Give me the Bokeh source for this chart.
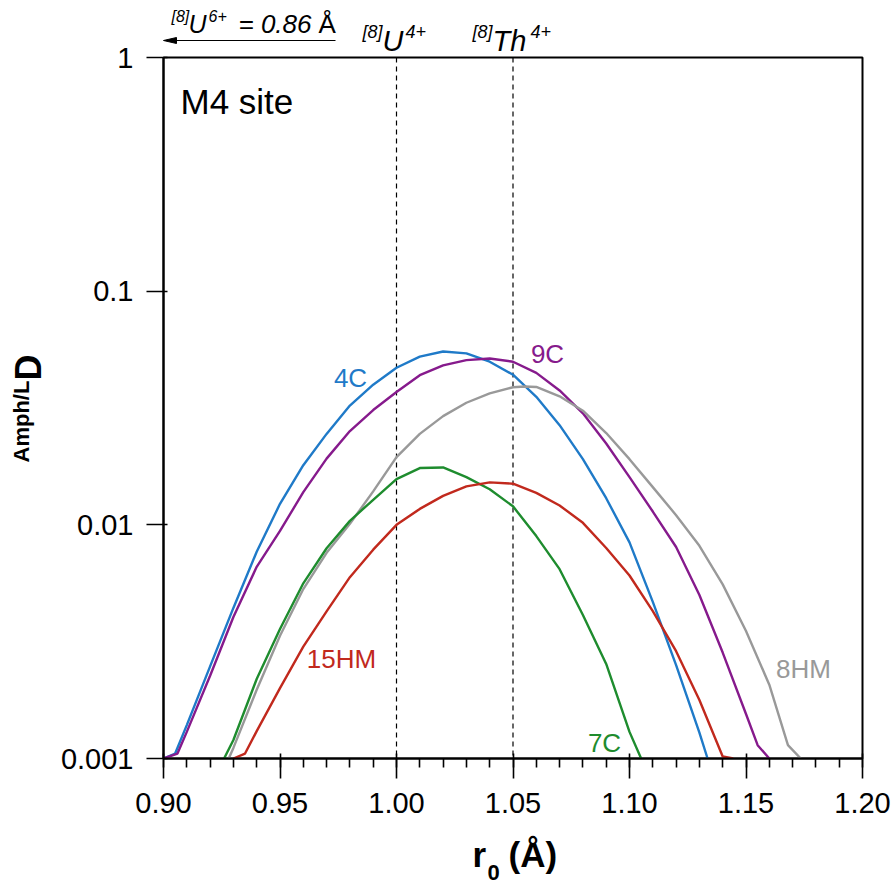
import numpy as np
from bokeh.plotting import figure
from bokeh.models import (Range1d, FixedTicker, Label, Span,
                          NumeralTickFormatter, CustomJSTickFormatter)
from bokeh.core.properties import value
from bokeh.embed import file_html
from bokeh.resources import INLINE

# ---- data (r0 in Å, D = Amph/L partition coefficient) ----
x_4C = [0.900, 0.905, 0.91, 0.92, 0.93, 0.94, 0.95, 0.96, 0.97, 0.98, 0.99, 1.00, 1.01,
        1.02, 1.03, 1.04, 1.05, 1.06, 1.07, 1.08, 1.09, 1.10, 1.11, 1.12, 1.13, 1.1335]
D_4C = [0.00100, 0.00105, 0.00139, 0.00248, 0.00441, 0.00767, 0.0123, 0.0180, 0.0245,
        0.0324, 0.0398, 0.0470, 0.0525, 0.0552, 0.0542, 0.0499, 0.0439, 0.0353, 0.0267,
        0.0191, 0.0130, 0.00841, 0.00468, 0.00251, 0.00129, 0.00100]

x_9C = [0.900, 0.906, 0.91, 0.92, 0.93, 0.94, 0.95, 0.96, 0.97, 0.98, 0.99, 1.00, 1.01,
        1.02, 1.03, 1.04, 1.05, 1.06, 1.07, 1.08, 1.09, 1.10, 1.11, 1.12, 1.13, 1.14,
        1.15, 1.155, 1.16]
D_9C = [0.00100, 0.00105, 0.00130, 0.00226, 0.00403, 0.00661, 0.00942, 0.0138, 0.0192,
        0.0252, 0.0310, 0.0370, 0.0437, 0.0481, 0.0507, 0.0515, 0.0499, 0.0447, 0.0376,
        0.0300, 0.0223, 0.0160, 0.0114, 0.00804, 0.00501, 0.00284, 0.00155, 0.00114, 0.00100]

x_8HM = [0.928, 0.93, 0.94, 0.95, 0.96, 0.97, 0.98, 0.99, 1.00, 1.01, 1.02, 1.03, 1.04,
         1.05, 1.055, 1.06, 1.07, 1.08, 1.09, 1.10, 1.11, 1.12, 1.13, 1.14, 1.15, 1.16,
         1.168, 1.1735]
D_8HM = [0.00100, 0.00111, 0.00197, 0.00335, 0.00531, 0.00759, 0.0101, 0.0139, 0.0195,
         0.0245, 0.0292, 0.0333, 0.0365, 0.0388, 0.0391, 0.0389, 0.0355, 0.0308, 0.0247,
         0.0191, 0.0145, 0.0110, 0.00813, 0.00556, 0.00351, 0.00207, 0.00114, 0.00100]

x_7C = [0.926, 0.93, 0.94, 0.95, 0.96, 0.97, 0.98, 0.99, 1.00, 1.01, 1.02, 1.03, 1.04,
        1.05, 1.06, 1.07, 1.08, 1.09, 1.10, 1.105]
D_7C = [0.00100, 0.00120, 0.00219, 0.00358, 0.00562, 0.00794, 0.0104, 0.0128, 0.0157,
        0.0175, 0.0176, 0.0160, 0.0142, 0.0120, 0.00895, 0.00646, 0.00411, 0.00254,
        0.00130, 0.00100]

x_15HM = [0.930, 0.935, 0.94, 0.95, 0.96, 0.97, 0.98, 0.99, 1.00, 1.01, 1.02, 1.03,
          1.04, 1.05, 1.06, 1.07, 1.08, 1.09, 1.10, 1.11, 1.12, 1.13, 1.14, 1.1445]
D_15HM = [0.00100, 0.00105, 0.00131, 0.00200, 0.00301, 0.00426, 0.00597, 0.00783,
          0.0100, 0.0117, 0.0133, 0.0146, 0.0152, 0.0150, 0.0137, 0.0121, 0.0102,
          0.00796, 0.00607, 0.00427, 0.00288, 0.00178, 0.00102, 0.00100]

series_names = ["4C", "9C", "8HM", "7C", "15HM"]
series_colors = ["#1f7ac8", "#861a8c", "#999999", "#1e8c2e", "#c1291d"]

ion_radii = [1.00, 1.05]          # [8]U4+ and [8]Th4+
x_ticks = [0.90, 0.95, 1.00, 1.05, 1.10, 1.15, 1.20]
x_minor = [round(0.90 + 0.01 * i, 2) for i in range(31)]
y_ticks = [0.001, 0.01, 0.1, 1]

FONT = "Liberation Sans"
FL, FR, FT, FB = 163, 862, 57, 758   # frame edges in page pixels
K = 0.38                             # glyph text vertical offset factor

def px2x(px):
    return 0.9 + (px - FL) / (FR - FL) * 0.3

def py2y(py):
    return 10 ** ((FB - py) / (FB - FT) * 3 - 3)

p = figure(width=893, height=888, y_axis_type="log",
           x_range=Range1d(0.9, 1.2), y_range=Range1d(0.001, 1),
           output_backend="svg", toolbar_location=None,
           min_border_left=FL, min_border_right=893 - FR, min_border_top=FT,
           min_border_bottom=888 - FB)
p.grid.visible = False
p.outline_line_color = "black"
p.outline_line_width = 2
p.background_fill_color = "white"
p.border_fill_color = "white"

for r in ion_radii:
    p.add_layout(Span(location=r, dimension="height", line_color="black",
                      line_width=1.2, line_dash="5 4", level="underlay"))

xs = [x_4C, x_9C, x_8HM, x_7C, x_15HM]
ds = [D_4C, D_9C, D_8HM, D_7C, D_15HM]
for xv, dv, c in zip(xs, ds, series_colors):
    p.line(xv, dv, line_color=c, line_width=2.4)

# axes
p.xaxis.ticker = FixedTicker(ticks=x_ticks, minor_ticks=x_minor)
p.xaxis.formatter = NumeralTickFormatter(format="0.00")
p.yaxis.ticker = FixedTicker(ticks=y_ticks)
p.yaxis.formatter = CustomJSTickFormatter(code="return tick.toString()")
for ax in (p.xaxis, p.yaxis):
    ax.axis_line_width = 2
    ax.axis_line_color = "black"
    ax.major_tick_line_width = 1.6
    ax.major_tick_line_color = "black"
    ax.major_label_text_font = FONT
    ax.major_label_text_font_size = "29px"
    ax.major_label_text_color = "black"
p.xaxis.major_tick_out = 20
p.xaxis.major_tick_in = 5
p.xaxis.minor_tick_out = 9
p.xaxis.minor_tick_in = 0
p.xaxis.minor_tick_line_width = 1.6
p.xaxis.minor_tick_line_color = "black"
p.xaxis.major_label_standoff = 14
p.yaxis.major_tick_out = 17
p.yaxis.major_tick_in = 4
p.yaxis.minor_tick_line_color = None
p.yaxis.major_label_standoff = 13

# curve labels (inside the frame)
label_pos = {"4C": (350, 377), "9C": (547, 353), "8HM": (803, 668),
             "15HM": (341, 658), "7C": (604, 742)}
for name, c in zip(series_names, series_colors):
    lx, ly = label_pos[name]
    p.add_layout(Label(x=px2x(lx), y=py2y(ly), text=name, text_color=c,
                       text_font=FONT, text_font_size="26px",
                       text_align="center", text_baseline="middle"))

p.add_layout(Label(x=px2x(180), y=py2y(101), text="M4 site", text_font=FONT,
                   text_font_size="35px", text_color="black",
                   text_align="left", text_baseline="alphabetic"))

# texts outside the frame: text glyphs at overlay level (positions = baseline)
def glyph_piece(text, px, py, size, style="italic", angle=0.0):
    if angle == 0.0:
        ax_, ay_ = px, py - K * size
    else:  # rotated 90 deg: baseline lies to the right
        ax_, ay_ = px - K * size, py
    p.text(x=[px2x(ax_)], y=[py2y(ay_)], text=[text], text_font=value(FONT),
           text_font_size=f"{size}px", text_font_style=style, text_color="black",
           text_align="left", text_baseline="alphabetic", angle=angle,
           level="overlay")

# top line 1: [8]U6+ = 0.86 Å with left arrow
glyph_piece("[8]", 171, 22, 16)
glyph_piece("U", 188, 33, 25)
glyph_piece("6+", 208, 22, 16)
glyph_piece("= 0.86 ", 238, 33, 26)
glyph_piece("Å", 318, 33, 26, style="normal")
p.segment(x0=[px2x(335)], y0=[py2y(40)], x1=[px2x(170)], y1=[py2y(40)],
          line_color="black", line_width=1.2, level="overlay")
p.patch(x=[px2x(163), px2x(176), px2x(176)], y=[py2y(40), py2y(37), py2y(43)],
        fill_color="black", line_color="black", line_width=1, level="overlay")

# top line 2: [8]U4+ and [8]Th4+
glyph_piece("[8]", 362, 38, 18)
glyph_piece("U", 382, 52, 29)
glyph_piece("4+", 405, 38, 18)
glyph_piece("[8]", 472, 38, 18)
glyph_piece("Th", 492, 52, 29)
glyph_piece("4+", 530, 38, 18)

# y axis label: Amph/L D (rotated)
glyph_piece("Amph/L", 29, 462, 22, style="bold", angle=np.pi / 2)
glyph_piece("D", 42, 380, 36, style="bold", angle=np.pi / 2)

# x axis label: r0 (Å)
glyph_piece("r", 472, 867, 35, style="bold")
glyph_piece("0", 487, 880, 22, style="bold")
glyph_piece("(Å)", 508, 867, 35, style="bold")

open("out.html", "w").write(file_html(p, INLINE))
